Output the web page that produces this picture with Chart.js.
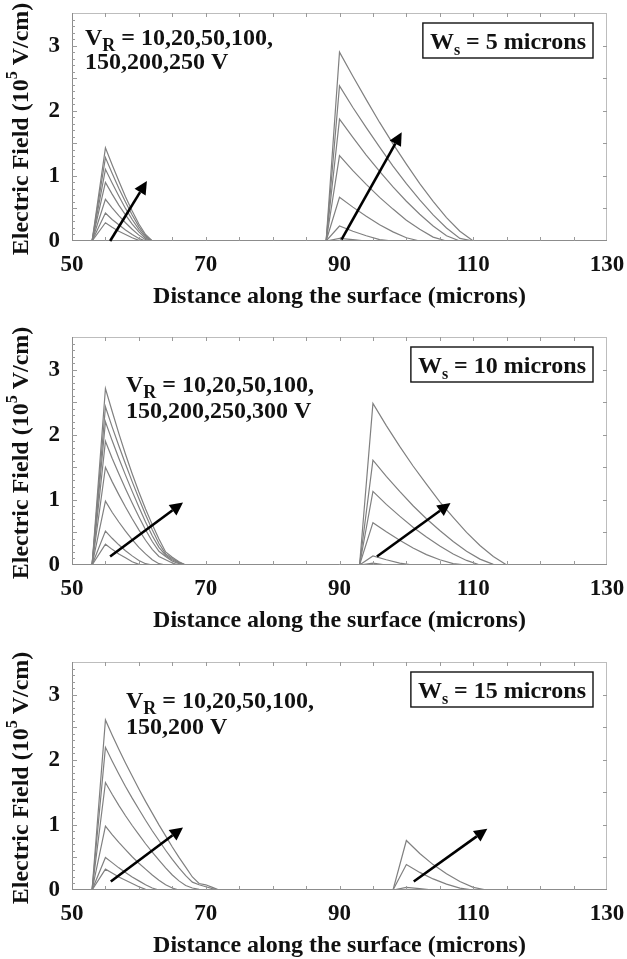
<!DOCTYPE html>
<html lang="en">
<head>
<meta charset="UTF-8">
<title>Electric field along the surface</title>
<style>
  *{ margin:0; padding:0; }
  body{ width:627px; height:959px; background:#fff; position:relative; overflow:hidden; }
  .panel{ position:absolute; left:0; width:627px; height:311px; }
</style>
</head>
<body>
<div class="panel" style="top:0px"><canvas id="c1" width="627" height="311"></canvas></div>
<div class="panel" style="top:324px"><canvas id="c2" width="627" height="311"></canvas></div>
<div class="panel" style="top:649px"><canvas id="c3" width="627" height="311"></canvas></div>

<script src="https://cdn.jsdelivr.net/npm/chart.js@4.4.0/dist/chart.umd.min.js"></script>
<script>
// ---- panel 1 : Ws = 5 microns ----
const P1_X = [50, 53, 55, 56, 57, 58, 59, 60, 61, 62, 88, 90, 92, 94, 96, 98, 100, 102, 104, 106, 108, 110, 130];
const P1_V = [250, 200, 150, 100, 50, 20, 10];
const p1_250 = [0, 0, 1.43, 1.17, 0.92, 0.68, 0.46, 0.26, 0.10, 0, 0, 2.90, 2.53, 2.17, 1.82, 1.49, 1.18, 0.88, 0.61, 0.36, 0.15, 0, 0];
const p1_200 = [0, 0, 1.28, 1.04, 0.81, 0.60, 0.40, 0.22, 0.08, 0, 0, 2.38, 2.05, 1.74, 1.44, 1.15, 0.88, 0.63, 0.40, 0.20, 0.04, 0, 0];
const p1_150 = [0, 0, 1.10, 0.89, 0.69, 0.50, 0.33, 0.18, 0.06, 0, 0, 1.87, 1.59, 1.32, 1.07, 0.83, 0.61, 0.41, 0.23, 0.08, 0, 0, 0];
const p1_100 = [0, 0, 0.90, 0.72, 0.55, 0.40, 0.26, 0.14, 0.04, 0, 0, 1.31, 1.08, 0.87, 0.67, 0.49, 0.32, 0.18, 0.06, 0, 0, 0, 0];
const p1_50  = [0, 0, 0.64, 0.51, 0.39, 0.28, 0.18, 0.09, 0.02, 0, 0, 0.67, 0.52, 0.38, 0.25, 0.14, 0.05, 0, 0, 0, 0, 0, 0];
const p1_20  = [0, 0, 0.43, 0.33, 0.25, 0.17, 0.10, 0.04, 0, 0, 0, 0.23, 0.15, 0.08, 0.02, 0, 0, 0, 0, 0, 0, 0, 0];
const p1_10  = [0, 0, 0.28, 0.21, 0.15, 0.10, 0.05, 0.01, 0, 0, 0, 0.04, 0.02, 0, 0, 0, 0, 0, 0, 0, 0, 0, 0];

// ---- panel 2 : Ws = 10 microns ----
const P2_X = [50, 53, 55, 56, 57, 58, 59, 60, 61, 62, 63, 64, 65, 66, 67, 93, 95, 97, 99, 101, 103, 105, 107, 109, 111, 113, 115, 130];
const P2_V = [300, 250, 200, 150, 100, 50, 20, 10];
const p2_300 = [0, 0, 2.71, 2.36, 2.02, 1.70, 1.40, 1.12, 0.86, 0.62, 0.40, 0.20, 0.12, 0.05, 0, 0, 2.48, 2.14, 1.82, 1.52, 1.24, 0.97, 0.73, 0.50, 0.30, 0.13, 0, 0];
const p2_250 = [0, 0, 2.43, 2.12, 1.83, 1.55, 1.28, 1.02, 0.77, 0.54, 0.33, 0.17, 0.10, 0.04, 0, 0, 1.61, 1.36, 1.13, 0.91, 0.71, 0.53, 0.36, 0.21, 0.09, 0.01, 0, 0];
const p2_200 = [0, 0, 2.20, 1.91, 1.64, 1.38, 1.13, 0.89, 0.66, 0.45, 0.27, 0.15, 0.08, 0.03, 0, 0, 1.13, 0.93, 0.75, 0.58, 0.43, 0.29, 0.17, 0.07, 0, 0, 0, 0];
const p2_150 = [0, 0, 1.90, 1.64, 1.40, 1.17, 0.95, 0.74, 0.54, 0.36, 0.21, 0.13, 0.06, 0.02, 0, 0, 0.65, 0.51, 0.38, 0.26, 0.16, 0.08, 0.02, 0, 0, 0, 0, 0];
const p2_100 = [0, 0, 1.50, 1.28, 1.08, 0.89, 0.71, 0.54, 0.38, 0.24, 0.13, 0.08, 0.03, 0, 0, 0, 0.14, 0.08, 0.03, 0, 0, 0, 0, 0, 0, 0, 0, 0];
const p2_50  = [0, 0, 0.98, 0.81, 0.66, 0.52, 0.39, 0.27, 0.17, 0.08, 0.02, 0, 0, 0, 0, 0, 0.03, 0, 0, 0, 0, 0, 0, 0, 0, 0, 0, 0];
const p2_20  = [0, 0, 0.52, 0.41, 0.31, 0.22, 0.14, 0.07, 0.02, 0, 0, 0, 0, 0, 0, 0, 0, 0, 0, 0, 0, 0, 0, 0, 0, 0, 0, 0];
const p2_10  = [0, 0, 0.32, 0.24, 0.17, 0.11, 0.05, 0.01, 0, 0, 0, 0, 0, 0, 0, 0, 0, 0, 0, 0, 0, 0, 0, 0, 0, 0, 0, 0];

// ---- panel 3 : Ws = 15 microns ----
const P3_X = [50, 53, 55, 56, 57, 58, 59, 60, 61, 62, 63, 64, 65, 66, 67, 68, 69, 70, 71, 72, 98, 100, 102, 104, 106, 108, 110, 112, 130];
const P3_V = [200, 150, 100, 50, 20, 10];
const p3_200 = [0, 0, 2.61, 2.38, 2.16, 1.95, 1.75, 1.55, 1.36, 1.18, 1.00, 0.83, 0.66, 0.50, 0.35, 0.20, 0.10, 0.08, 0.04, 0, 0, 0.76, 0.56, 0.39, 0.25, 0.13, 0.04, 0, 0];
const p3_150 = [0, 0, 2.19, 1.98, 1.78, 1.59, 1.41, 1.24, 1.07, 0.91, 0.76, 0.61, 0.47, 0.34, 0.22, 0.12, 0.08, 0.05, 0.02, 0, 0, 0.39, 0.27, 0.17, 0.09, 0.03, 0, 0, 0];
const p3_100 = [0, 0, 1.65, 1.47, 1.30, 1.14, 0.99, 0.85, 0.71, 0.58, 0.46, 0.34, 0.23, 0.14, 0.07, 0.03, 0.01, 0, 0, 0, 0, 0.04, 0.02, 0, 0, 0, 0, 0, 0];
const p3_50  = [0, 0, 0.98, 0.85, 0.73, 0.62, 0.51, 0.41, 0.32, 0.23, 0.15, 0.08, 0.03, 0, 0, 0, 0, 0, 0, 0, 0, 0, 0, 0, 0, 0, 0, 0, 0];
const p3_20  = [0, 0, 0.50, 0.42, 0.34, 0.27, 0.20, 0.14, 0.08, 0.03, 0, 0, 0, 0, 0, 0, 0, 0, 0, 0, 0, 0, 0, 0, 0, 0, 0, 0, 0];
const p3_10  = [0, 0, 0.32, 0.26, 0.20, 0.15, 0.10, 0.05, 0.01, 0, 0, 0, 0, 0, 0, 0, 0, 0, 0, 0, 0, 0, 0, 0, 0, 0, 0, 0, 0];

// arrows in data units: [x0, y0, x1, y1]
const P1_ARROWS = [[55.7, 0.0, 61.2, 0.92], [90.3, 0.02, 99.3, 1.67]];
const P2_ARROWS = [[55.7, 0.13, 66.6, 0.96], [95.6, 0.13, 106.6, 0.95]];
const P3_ARROWS = [[55.8, 0.13, 66.6, 0.96], [101.1, 0.13, 112.1, 0.94]];

const X_TITLE = 'Distance along the surface (microns)';
const FONT = "'Liberation Serif', 'Times New Roman', serif";
const CURVE_COLOR = '#808080';

const panels = [
  { id: 'c1', xs: P1_X, volts: P1_V, ys: [p1_250, p1_200, p1_150, p1_100, p1_50, p1_20, p1_10], arrows: P1_ARROWS,
    ws: '5', vr: ['10,20,50,100,', '150,200,250 V'], vrX: 13, vrY: [32, 56] },
  { id: 'c2', xs: P2_X, volts: P2_V, ys: [p2_300, p2_250, p2_200, p2_150, p2_100, p2_50, p2_20, p2_10], arrows: P2_ARROWS,
    ws: '10', vr: ['10,20,50,100,', '150,200,250,300 V'], vrX: 54, vrY: [55, 81] },
  { id: 'c3', xs: P3_X, volts: P3_V, ys: [p3_200, p3_150, p3_100, p3_50, p3_20, p3_10], arrows: P3_ARROWS,
    ws: '15', vr: ['10,20,50,100,', '150,200 V'], vrX: 54, vrY: [46, 72] }
];

function series(xs, ys) {
  return xs.map((x, i) => ({ x: x, y: ys[i] }));
}

function runsWidth(ctx, runs) {
  let w = 0;
  runs.forEach(r => { ctx.font = 'bold ' + r.size + 'px ' + FONT; w += ctx.measureText(r.t).width; });
  return w;
}

function drawRuns(ctx, x, y, runs) {
  runs.forEach(r => {
    ctx.font = 'bold ' + r.size + 'px ' + FONT;
    ctx.fillText(r.t, x, y + (r.dy || 0));
    x += ctx.measureText(r.t).width;
  });
}

function makeDecor(p) {
  return {
    id: 'decor',
    afterDatasetsDraw(chart) {
      const ctx = chart.ctx, a = chart.chartArea;
      const sx = chart.scales.x, sy = chart.scales.y;
      ctx.save();

      // frame
      ctx.strokeStyle = '#bdbdbd';
      ctx.lineWidth = 1;
      ctx.strokeRect(a.left + 0.5, a.top + 0.5, a.right - a.left - 1, a.bottom - a.top - 1);
      ctx.strokeStyle = '#8c8c8c';
      ctx.beginPath();
      ctx.moveTo(a.left + 0.5, a.top); ctx.lineTo(a.left + 0.5, a.bottom);
      ctx.moveTo(a.left, a.bottom - 0.5); ctx.lineTo(a.right, a.bottom - 0.5);
      ctx.stroke();

      // inward tick marks
      ctx.strokeStyle = '#9a9a9a';
      ctx.beginPath();
      for (let v = 55; v < 130; v += 5) {
        const px = Math.round(sx.getPixelForValue(v)) + 0.5;
        ctx.moveTo(px, a.top); ctx.lineTo(px, a.top + 4);
        ctx.moveTo(px, a.bottom); ctx.lineTo(px, a.bottom - 4);
      }
      for (let i = 1; i < 35; i++) {
        const py = Math.round(sy.getPixelForValue(i / 10)) + 0.5;
        const len = i % 5 === 0 ? 5 : 3;
        ctx.moveTo(a.left, py); ctx.lineTo(a.left + len, py);
        if (i % 5 === 0) { ctx.moveTo(a.right, py); ctx.lineTo(a.right - 4, py); }
      }
      ctx.stroke();

      // arrows
      ctx.strokeStyle = '#000';
      ctx.fillStyle = '#000';
      ctx.lineWidth = 2.6;
      p.arrows.forEach(ar => {
        const x0 = sx.getPixelForValue(ar[0]), y0 = sy.getPixelForValue(ar[1]);
        const x1 = sx.getPixelForValue(ar[2]), y1 = sy.getPixelForValue(ar[3]);
        const ang = Math.atan2(y1 - y0, x1 - x0);
        const head = 13, half = 6.5;
        const bx = x1 - head * Math.cos(ang), by = y1 - head * Math.sin(ang);
        ctx.beginPath();
        ctx.moveTo(x0, y0); ctx.lineTo(bx, by);
        ctx.stroke();
        ctx.beginPath();
        ctx.moveTo(x1, y1);
        ctx.lineTo(bx + half * Math.sin(ang), by - half * Math.cos(ang));
        ctx.lineTo(bx - half * Math.sin(ang), by + half * Math.cos(ang));
        ctx.closePath();
        ctx.fill();
      });

      // V_R label
      ctx.fillStyle = '#111';
      ctx.textAlign = 'left';
      ctx.textBaseline = 'alphabetic';
      drawRuns(ctx, a.left + p.vrX, a.top + p.vrY[0],
        [{ t: 'V', size: 24 }, { t: 'R', size: 18, dy: 6 }, { t: ' = ' + p.vr[0], size: 24 }]);
      drawRuns(ctx, a.left + p.vrX, a.top + p.vrY[1], [{ t: p.vr[1], size: 24 }]);

      // W_s box
      const runs = [{ t: 'W', size: 24 }, { t: 's', size: 16, dy: 6 }, { t: ' = ' + p.ws + ' microns', size: 24 }];
      const w = runsWidth(ctx, runs);
      const bw = w + 14, bh = 35;
      const bx = a.right - 14 - bw, by = a.top + 10;
      ctx.lineWidth = 1.4;
      ctx.strokeStyle = '#111';
      ctx.strokeRect(bx, by, bw, bh);
      drawRuns(ctx, bx + 7, by + 26, runs);

      // y title with superscript
      const yt = [{ t: 'Electric Field (10', size: 24 }, { t: '5', size: 16, dy: -9 }, { t: ' V/cm)', size: 24 }];
      const tw = runsWidth(ctx, yt);
      ctx.translate(22, (a.top + a.bottom) / 2 + 2);
      ctx.rotate(-Math.PI / 2);
      ctx.textBaseline = 'middle';
      drawRuns(ctx, -tw / 2, 0, yt);

      ctx.restore();
    }
  };
}

Chart.defaults.font.family = FONT;
Chart.defaults.color = '#111';

panels.forEach(p => {
  new Chart(document.getElementById(p.id), {
    type: 'line',
    data: {
      datasets: p.ys.map((ys, i) => ({
        label: p.volts[i] + ' V',
        data: series(p.xs, ys),
        borderColor: CURVE_COLOR,
        borderWidth: 1.2,
        pointRadius: 0,
        tension: 0,
        fill: false
      }))
    },
    options: {
      responsive: false,
      animation: false,
      layout: { padding: { top: 13, right: 20, left: 0, bottom: 0 } },
      plugins: { legend: { display: false }, tooltip: { enabled: false } },
      scales: {
        x: {
          type: 'linear', min: 50, max: 130,
          border: { display: false },
          grid: { display: false, drawTicks: false },
          ticks: {
            stepSize: 10, autoSkip: false, maxRotation: 0, padding: 10,
            font: { size: 23, weight: 'bold' },
            callback: v => ((v - 50) % 20 === 0 ? String(v) : '')
          },
          title: {
            display: true, text: X_TITLE,
            font: { size: 24, weight: 'bold' },
            padding: { top: 0, bottom: 0 }
          },
          afterFit: s => { s.height = 70; s.paddingLeft = 0; s.paddingRight = 0; }
        },
        y: {
          min: 0, max: 3.5,
          border: { display: false },
          grid: { display: false, drawTicks: false },
          ticks: {
            stepSize: 0.5, autoSkip: false, padding: 12,
            font: { size: 23, weight: 'bold' },
            callback: v => (Number.isInteger(v) ? String(v) : '')
          },
          afterFit: s => { s.width = 72; s.paddingTop = 0; s.paddingBottom = 0; }
        }
      }
    },
    plugins: [makeDecor(p)]
  });
});
</script>
</body>
</html>
